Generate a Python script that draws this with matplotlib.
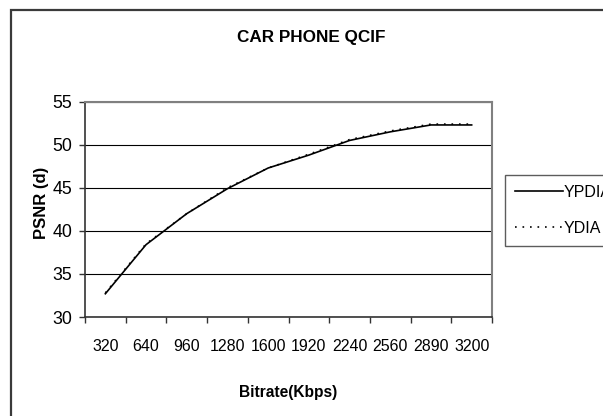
import matplotlib.pyplot as plt
from matplotlib.patches import Rectangle

bitrate = ["320", "640", "960", "1280", "1600", "1920", "2240", "2560", "2890", "3200"]
ypdia = [32.7, 38.4, 42.0, 44.9, 47.3, 48.8, 50.5, 51.5, 52.3, 52.3]
ydia = [32.8, 38.5, 42.0, 45.0, 47.3, 48.9, 50.6, 51.6, 52.4, 52.4]

sans = ['Liberation Sans', 'DejaVu Sans']
W, H = 603, 416

fig = plt.figure(figsize=(W / 100, H / 100), dpi=100)
fig.patch.set_facecolor('white')

# outer chart border (cut off on the right and bottom)
fig.patches.append(Rectangle((11 / W, -0.05), 1.2, 1 - 10 / H + 0.05,
                             transform=fig.transFigure, fill=False,
                             edgecolor='#3a3a3a', linewidth=1.6))

left, right, top, bottom = 85, 492, 101.7, 317
ax = fig.add_axes([left / W, 1 - bottom / H, (right - left) / W, (bottom - top) / H])

x = list(range(len(bitrate)))
ax.plot(x, ypdia, color='black', linewidth=1.2, label="YPDIA", zorder=3)
ax.plot(x, ydia, color='black', linewidth=1.2, linestyle=(0, (1, 3.5)), label="YDIA", zorder=3)

ax.set_xlim(-0.5, len(bitrate) - 0.5)
ax.set_ylim(30, 55)
ax.set_yticks([30, 35, 40, 45, 50, 55])
ax.yaxis.grid(True, color='black', linewidth=0.8)
ax.set_axisbelow(True)

ax.set_xticks([i - 0.5 for i in range(len(bitrate) + 1)])
ax.set_xticklabels([])
ax.set_xticks(x, minor=True)
ax.set_xticklabels(bitrate, minor=True, family=sans, fontsize=11.5)
ax.tick_params(axis='x', which='minor', length=0, pad=16)
ax.tick_params(axis='x', which='major', length=4.3, width=1, direction='out', color='#333333')
ax.tick_params(axis='y', length=4.3, width=1, direction='out', color='#333333', pad=5)
for lab in ax.get_yticklabels():
    lab.set_family(sans)
    lab.set_fontsize(12.8)

for s in ['top', 'right']:
    ax.spines[s].set_color('#808080')
    ax.spines[s].set_linewidth(1.5)
for s in ['left', 'bottom']:
    ax.spines[s].set_color('#333333')
    ax.spines[s].set_linewidth(1.2)

fig.text(311.5 / W, 1 - 37.7 / H, "CAR PHONE QCIF", ha='center', va='center',
         family=sans, fontsize=12.3, fontweight='bold')
fig.text(288.5 / W, 1 - 393 / H, "Bitrate(Kbps)", ha='center', va='center',
         family=sans, fontsize=11.2, fontweight='bold')
fig.text(41.7 / W, 1 - 203 / H, "PSNR (d)", ha='center', va='center', rotation=90,
         family=sans, fontsize=12, fontweight='bold')

leg = ax.legend(loc='upper left', bbox_to_anchor=(505 / W, 1 - 175 / H),
                bbox_transform=fig.transFigure, prop={'family': sans, 'size': 11.5},
                frameon=True, fancybox=False, handlelength=3.0, handletextpad=0.05,
                borderpad=0.62, labelspacing=1.3, borderaxespad=0)
leg.get_frame().set_edgecolor('#333333')
leg.get_frame().set_linewidth(1.0)

fig.savefig("out.png", dpi=100)
